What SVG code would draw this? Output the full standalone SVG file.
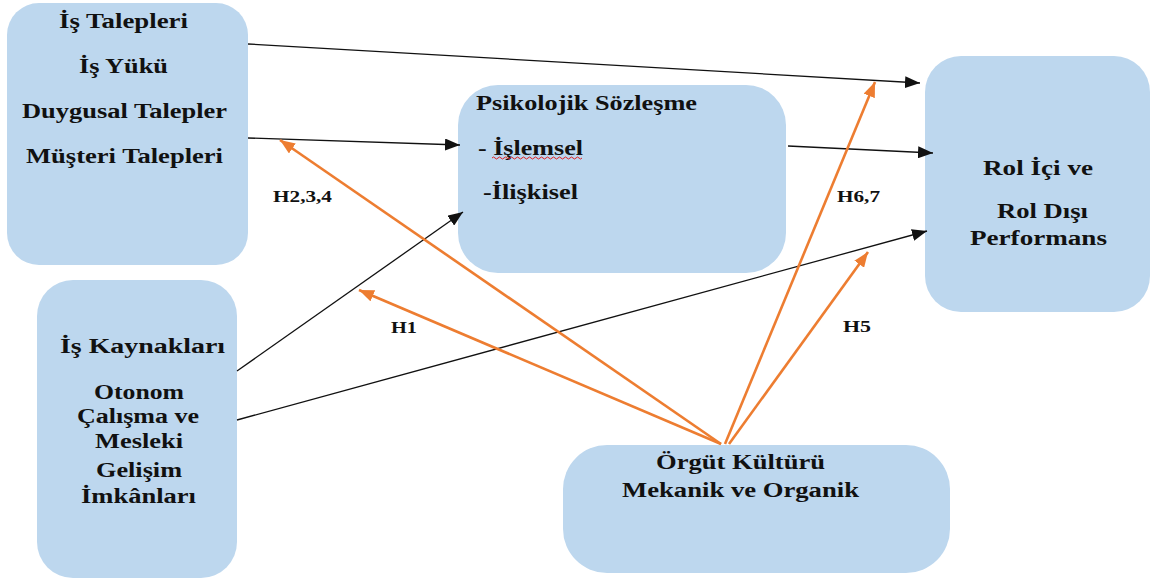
<svg xmlns="http://www.w3.org/2000/svg" width="1150" height="583" viewBox="0 0 1150 583">
<style>
.node{fill:#BDD7EE;stroke:none}
.t{font-family:"Liberation Serif","Times New Roman",serif;font-weight:bold;font-size:20px;fill:#111}
.lbl{font-family:"Liberation Serif","Times New Roman",serif;font-weight:bold;font-size:17px;fill:#111}
.blk{stroke:#111;stroke-width:1.3;fill:none;marker-end:url(#ab)}
.org{stroke:#ED7D31;stroke-width:2.6;fill:none;marker-end:url(#ao)}
</style>
<defs>
<marker id="ab" markerUnits="userSpaceOnUse" markerWidth="16" markerHeight="12" refX="15" refY="6" orient="auto">
<path d="M0,0 L15,6 L0,12 Z" fill="#111"/>
</marker>
<marker id="ao" markerUnits="userSpaceOnUse" markerWidth="16" markerHeight="12" refX="15" refY="6" orient="auto">
<path d="M0,0 L15,6 L0,12 Z" fill="#ED7D31"/>
</marker>
</defs>
<rect width="1150" height="583" fill="#fff"/>

<g id="is-talepleri">
<rect class="node" x="7" y="3" width="241" height="262" rx="32"/>
<text class="t" x="59" y="28" textLength="129" lengthAdjust="spacingAndGlyphs">İş Talepleri</text>
<text class="t" x="79" y="73" textLength="89" lengthAdjust="spacingAndGlyphs">İş Yükü</text>
<text class="t" x="22" y="118" textLength="205" lengthAdjust="spacingAndGlyphs">Duygusal Talepler</text>
<text class="t" x="26" y="163" textLength="197" lengthAdjust="spacingAndGlyphs">Müşteri Talepleri</text>
</g>

<g id="psikolojik">
<rect class="node" x="458" y="85" width="328" height="188" rx="40"/>
<text class="t" x="476" y="110" textLength="221" lengthAdjust="spacingAndGlyphs">Psikolojik Sözleşme</text>
<text class="t" x="478" y="155" textLength="105" lengthAdjust="spacingAndGlyphs">- İşlemsel</text>
<path d="M492,158 q1.5,-2 3,0 t3,0 t3,0 t3,0 t3,0 t3,0 t3,0 t3,0 t3,0 t3,0 t3,0 t3,0 t3,0 t3,0 t3,0 t3,0 t3,0 t3,0 t3,0 t3,0 t3,0 t3,0 t3,0 t3,0 t3,0 t3,0 t3,0 t3,0 t3,0 t3,0" fill="none" stroke="#e02020" stroke-width="1"/>
<text class="t" x="483" y="199" textLength="95" lengthAdjust="spacingAndGlyphs">-İlişkisel</text>
</g>

<g id="rol">
<rect class="node" x="925" y="56" width="225" height="256" rx="36"/>
<text class="t" x="983" y="175" textLength="110" lengthAdjust="spacingAndGlyphs">Rol İçi ve</text>
<text class="t" x="997" y="218" textLength="91" lengthAdjust="spacingAndGlyphs">Rol Dışı</text>
<text class="t" x="970" y="245" textLength="137" lengthAdjust="spacingAndGlyphs">Performans</text>
</g>

<g id="is-kaynaklari">
<rect class="node" x="37" y="280" width="200" height="298" rx="36"/>
<text class="t" x="60" y="353" textLength="165" lengthAdjust="spacingAndGlyphs">İş Kaynakları</text>
<text class="t" x="94" y="399" textLength="90" lengthAdjust="spacingAndGlyphs">Otonom</text>
<text class="t" x="77" y="423" textLength="122" lengthAdjust="spacingAndGlyphs">Çalışma ve</text>
<text class="t" x="95" y="448" textLength="88" lengthAdjust="spacingAndGlyphs">Mesleki</text>
<text class="t" x="96" y="477" textLength="86" lengthAdjust="spacingAndGlyphs">Gelişim</text>
<text class="t" x="81" y="503" textLength="115" lengthAdjust="spacingAndGlyphs">İmkânları</text>
</g>

<g id="orgut">
<rect class="node" x="563" y="445" width="387" height="128" rx="44"/>
<text class="t" x="656" y="469" textLength="169" lengthAdjust="spacingAndGlyphs">Örgüt Kültürü</text>
<text class="t" x="622" y="497" textLength="237" lengthAdjust="spacingAndGlyphs">Mekanik ve Organik</text>
</g>

<g id="connectors">
<line class="blk" x1="248" y1="44" x2="920" y2="83"/>
<line class="blk" x1="248" y1="138" x2="460" y2="145"/>
<line class="blk" x1="237" y1="371" x2="463" y2="212"/>
<line class="blk" x1="237" y1="420" x2="927" y2="231"/>
<line class="blk" x1="788" y1="146" x2="933" y2="153"/>
<line class="org" x1="721" y1="444" x2="280" y2="140"/>
<line class="org" x1="721" y1="444" x2="359" y2="290"/>
<line class="org" x1="725" y1="444" x2="875" y2="82"/>
<line class="org" x1="729" y1="444" x2="868" y2="252"/>
</g>

<g id="labels">
<text class="lbl" x="273" y="202" textLength="59" lengthAdjust="spacingAndGlyphs">H2,3,4</text>
<text class="lbl" x="391" y="333" textLength="26" lengthAdjust="spacingAndGlyphs">H1</text>
<text class="lbl" x="837" y="202" textLength="43" lengthAdjust="spacingAndGlyphs">H6,7</text>
<text class="lbl" x="843" y="332" textLength="28" lengthAdjust="spacingAndGlyphs">H5</text>
</g>
</svg>
